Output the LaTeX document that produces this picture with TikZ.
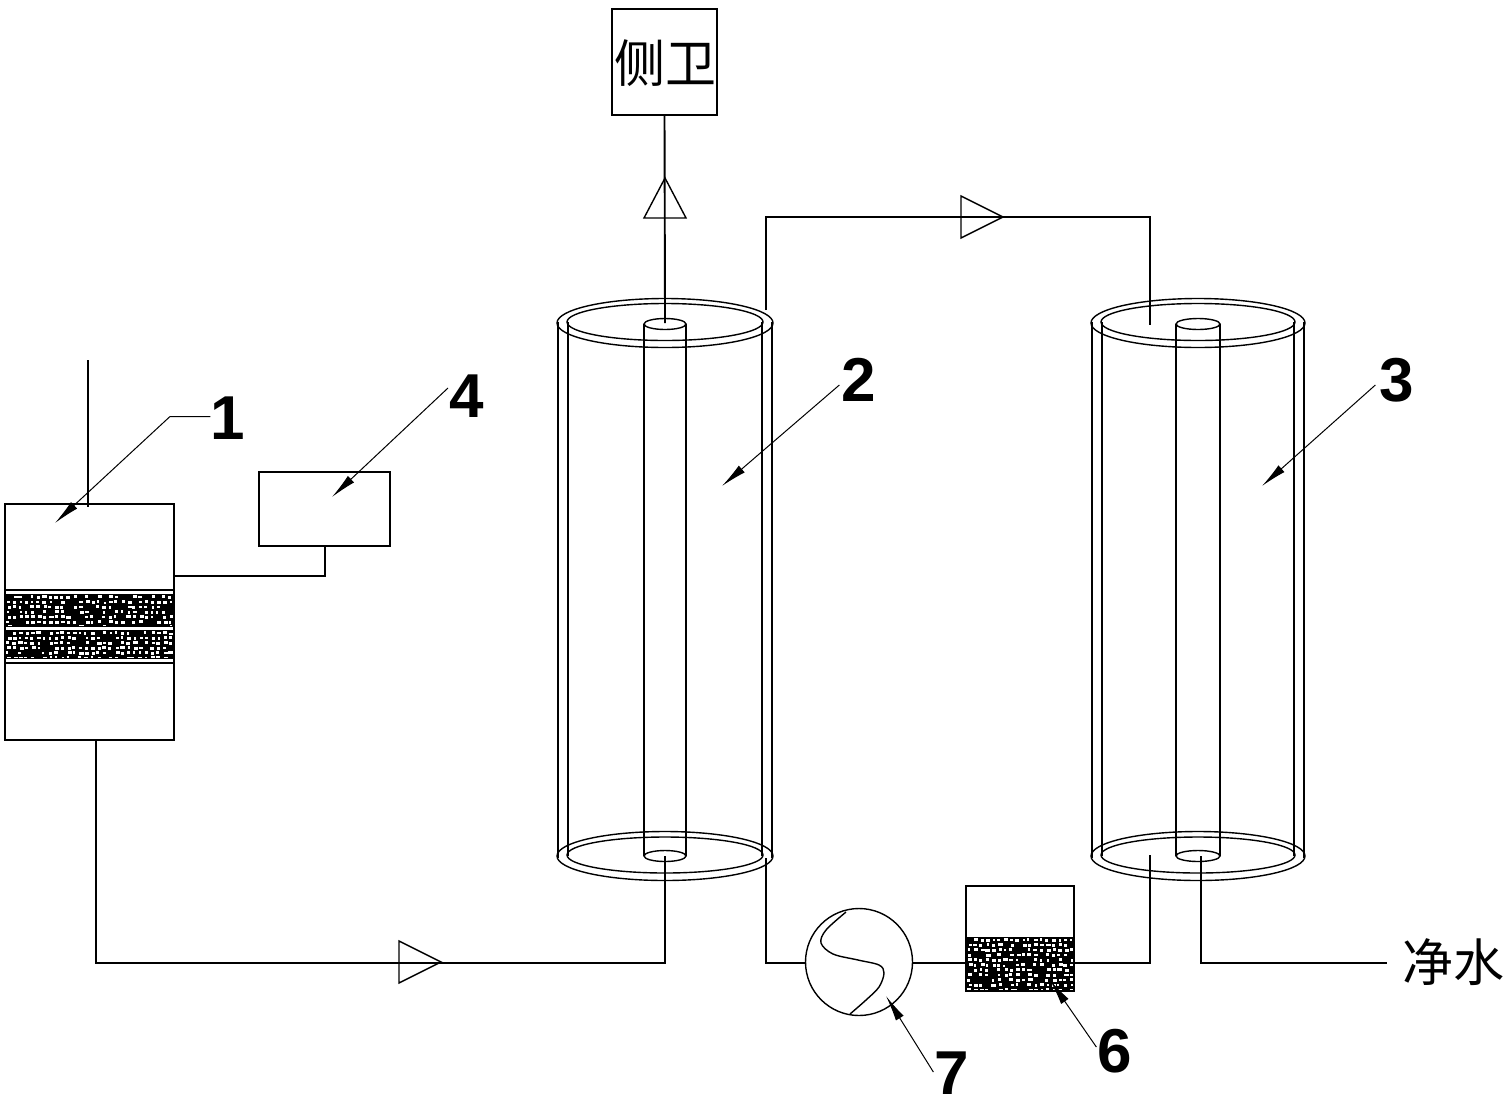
\documentclass[tikz,border=0pt]{standalone}
\usepackage{fontspec}
\setmainfont{Liberation Sans}
\newfontfamily\cjk{Noto Sans CJK SC}
\usetikzlibrary{arrows.meta}
\tikzset{
  line/.style={line width=0.95pt,black},
  thin line/.style={line width=0.7pt,black},
  boxnode/.style={draw,line width=0.95pt,inner sep=0pt,outer sep=0pt,rectangle},
  digit/.style={font=\bfseries\fontsize{31}{31}\selectfont,inner sep=0pt},
  hanzi/.style={font=\cjk\fontsize{25.5}{25.5}\selectfont,inner sep=0pt},
  leader/.style={line width=0.5pt,-{Latex[length=13pt,width=4.5pt]}},
  flowmark/.style={line width=0.7pt,black,line join=miter}
}
\newcommand{\speckle}[4]{%
  \fill[black] (#1,#2) rectangle (#3,#4);
  \begin{scope}
    \clip (#1,#2+1.5) rectangle (#3,#4-1.5);
    \pgfmathsetmacro{\xs}{#1+1}\pgfmathsetmacro{\xn}{#1+7}\pgfmathsetmacro{\ys}{#2+1}\pgfmathsetmacro{\yn}{#2+6}
    \foreach \px in {\xs,\xn,...,#3}{
      \foreach \py in {\ys,\yn,...,#4}{
        \pgfmathsetmacro{\dx}{2*rnd}\pgfmathsetmacro{\dy}{1.5*rnd}\pgfmathsetmacro{\wd}{2+2.5*rnd}\pgfmathsetmacro{\kp}{rnd}
        \ifdim\kp pt<0.8pt
          \fill[white] (\px+\dx,\py+\dy) rectangle ++(\wd,2.6);
        \fi
      }
    }
  \end{scope}
}
\newcommand{\cylinder}[5]{% centre x, outer half, inner half, tube half, name
  \begin{scope}[shift={(#1,0)},line]
    \draw (-#2,322) -- (-#2,858) (#2,322) -- (#2,858);
    \draw (-#3,322) -- (-#3,856) (#3,322) -- (#3,856);
    \draw (-#4,324) -- (-#4,856) (#4,324) -- (#4,856);
    \draw[thin line] (0,323) ellipse [x radius=#2+1,y radius=24.5];
    \draw[thin line] (0,322) ellipse [x radius=#3+1,y radius=18.5];
    \draw[thin line] (0,324) ellipse [x radius=#4,y radius=5.5];
    \draw[thin line] (0,856) ellipse [x radius=#2+1,y radius=24.5];
    \draw[thin line] (0,855) ellipse [x radius=#3+1,y radius=18];
    \draw[thin line] (0,856) ellipse [x radius=#4,y radius=5.5];
    \coordinate (#5tt) at (0,323);
    \coordinate (#5tb) at (0,856);
  \end{scope}
}
\begin{document}
\begin{tikzpicture}[x=0.5pt,y=-0.5pt]
\useasboundingbox (0,0) rectangle (1507,1103);
\pgfmathsetseed{4217}

% unit 1
\speckle{5}{594}{174}{627}
\speckle{5}{630}{174}{659}
\node[boxnode,minimum width=84.5pt,minimum height=118pt] (box1) at (89.5,622) {};
\draw[line] (box1.west |- 0,590) -- (box1.east |- 0,590);
\draw[line] (box1.west |- 0,663) -- (box1.east |- 0,663);
\coordinate (inlet) at (88,360);
\coordinate (inletend) at (88,507);
\draw[thin line] (inlet) -- (inletend);

% unit 4
\node[boxnode,minimum width=65.5pt,minimum height=37pt] (box4) at (324.5,509) {};
\coordinate (joint4) at (325,576);
\draw[line] (box4.south -| joint4) -- (joint4) -- (box1.east |- joint4);

% side toilet
\node[boxnode,minimum width=52.5pt,minimum height=53pt] (toilet) at (664.5,62) {};
\node[hanzi] (toilettext) at (665,63) {侧卫};

% filters
\cylinder{665}{107}{97}{21}{two}
\cylinder{1198}{106}{96}{22}{three}

% pump and unit 6
\node[draw,line width=0.7pt,circle,inner sep=0pt,outer sep=0pt,minimum size=53.5pt] (pump) at (859,962) {};
\draw[thin line] plot[smooth,tension=0.55] coordinates {(846,912) (826,930) (821,943) (833,954) (858,960) (879,965) (884,973) (879,987) (866,1000) (850,1014)};
\speckle{966}{937}{1074}{991}
\node[boxnode,minimum width=54pt,minimum height=52.5pt] (box6) at (1020,938.5) {};

% piping
\coordinate (p1) at (96,963);
\coordinate (p2) at (665,963);
\draw[line] (box1.south -| p1) -- (p1) -- (p2) -- (twotb);
\draw[line] (twott) -- (toilet.south);
\coordinate (a1) at (766,310);
\coordinate (a2) at (766,217);
\coordinate (a3) at (1150,217);
\coordinate (a4) at (1150,325);
\draw[line] (a1) -- (a2) -- (a3) -- (a4);
\coordinate (b1) at (766,858);
\coordinate (b2) at (766,963);
\draw[line] (b1) -- (b2) -- (pump.west |- b2);
\draw[line] (pump.east |- b2) -- (box6.west |- b2);
\coordinate (c1) at (1150,963);
\coordinate (c2) at (1150,855);
\draw[line] (box6.east |- c1) -- (c1) -- (c2);
\coordinate (d1) at (1201,963);
\coordinate (d2) at (1387,963);
\draw[line] (threetb -| d1) -- (d1) -- (d2);
\node[hanzi,anchor=west] (water) at (1402,962) {净水};

% flow marks
\draw[flowmark] (399,941) -- (441,962) -- (399,983) -- cycle;
\draw[flowmark] (961,196) -- (1003,217) -- (961,238) -- cycle;
\draw[flowmark] (644,218) -- (665,178) -- (686,218) -- cycle;

% labels
\node[digit] (l1) at (228,418) {1};
\node[digit] (l4) at (467,396) {4};
\node[digit] (l2) at (859,380) {2};
\node[digit] (l3) at (1397,380) {3};
\node[digit] (l7) at (952,1073) {7};
\node[digit] (l6) at (1115,1051) {6};

% leaders
\coordinate (k1) at (170,416.5);
\coordinate (t1) at (55,523);
\draw[leader] (l1.west |- k1) -- (k1) -- (t1);
\coordinate (t4) at (332,497);
\draw[leader] (448,388) -- (t4);
\coordinate (t2) at (722,486);
\draw[leader] (l2.west) ++(-2,5) -- (t2);
\coordinate (t3) at (1262,486);
\draw[leader] (l3.west) ++(-4,5) -- (t3);
\coordinate (t7) at (886,996);
\draw[leader] (l7.west) ++(-1,-1) -- (t7);
\coordinate (t6) at (1050,980);
\draw[leader] (l6.west) ++(-1,-4) -- (t6);
\end{tikzpicture}
\end{document}
